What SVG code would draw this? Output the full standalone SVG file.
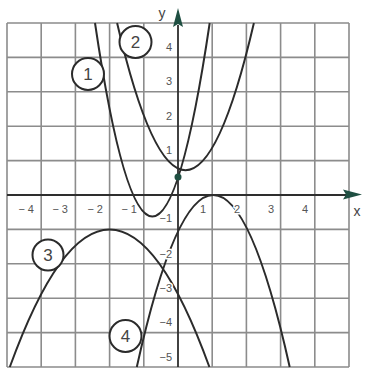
<svg xmlns="http://www.w3.org/2000/svg" width="365" height="371" viewBox="0 0 365 371">
<style>
.grid{stroke:#8c8c8c;stroke-width:1.6;fill:none}
.axis{stroke:#2e2e2e;stroke-width:1.8;fill:none}
.curve{stroke:#2b2b2b;stroke-width:2;fill:none}
.lbl{font-family:"Liberation Sans",Arial,sans-serif;font-size:11px;fill:#555;stroke:#fff;stroke-width:3;paint-order:stroke;stroke-linejoin:round}
.ax{font-family:"Liberation Sans",Arial,sans-serif;font-size:14px;fill:#444}
.tag circle{fill:#fff;stroke:#2b2b2b;stroke-width:2}
.tag text{font-family:"Liberation Sans",Arial,sans-serif;font-size:17px;fill:#444;text-anchor:middle}
.head{fill:#1f4f42}
</style>
<rect width="365" height="371" fill="#fff"/>
<g id="grid" class="grid">
<path d="M7 23V367M41.2 23V367M75.4 23V367M109.6 23V367M143.8 23V367M212.2 23V367M246.4 23V367M280.6 23V367M314.8 23V367M349 23V367"/>
<path d="M7 23H349M7 57.4H349M7 91.8H349M7 126.2H349M7 160.6H349M7 229.4H349M7 263.8H349M7 298.2H349M7 332.6H349M7 367H349"/>
</g>
<g id="curves">
<path id="curve1" class="curve" d="M95 23Q152.35 410 209.7 23"/>
<path id="curve2" class="curve" d="M117.1 23Q185.5 317.4 253.9 23"/>
<path id="curve3" class="curve" d="M9.8 367Q109.6 91.8 209.4 367"/>
<path id="curve4" class="curve" d="M136.8 367Q213.2 23 289.7 367"/>
</g>
<g id="axes">
<path class="axis" d="M7 195H346M178 367V25"/>
<path class="head" d="M362 194.5L343 189.5L346 194.5L343 199.5Z"/>
<path class="head" d="M178 8L173 27L178 24L183 27Z"/>
<circle class="head" cx="178" cy="177" r="3.5"/>
<text class="ax" x="357" y="216" text-anchor="middle">x</text>
<text class="ax" x="162" y="18" text-anchor="middle">y</text>
</g>
<g id="labels" class="lbl" text-anchor="end">
<text x="34" y="213">− 4</text>
<text x="68" y="213">− 3</text>
<text x="103" y="213">− 2</text>
<text x="137" y="213">− 1</text>
<text x="206" y="213">1</text>
<text x="240" y="213">2</text>
<text x="274" y="213">3</text>
<text x="308" y="213">4</text>
<text x="172" y="51">4</text>
<text x="172" y="85">3</text>
<text x="172" y="120">2</text>
<text x="172" y="154">1</text>
<text x="172" y="222">−1</text>
<text x="172" y="258">−2</text>
<text x="172" y="292">−3</text>
<text x="172" y="326">−4</text>
<text x="172" y="361">−5</text>
</g>
<g id="tag1" class="tag"><circle cx="88" cy="74" r="16"/><text x="88" y="80">1</text></g>
<g id="tag2" class="tag"><circle cx="135.5" cy="42" r="16"/><text x="135.5" y="48">2</text></g>
<g id="tag3" class="tag"><circle cx="48" cy="255" r="15.5"/><text x="48" y="261">3</text></g>
<g id="tag4" class="tag"><circle cx="125.5" cy="336" r="16"/><text x="125.5" y="342">4</text></g>
</svg>
